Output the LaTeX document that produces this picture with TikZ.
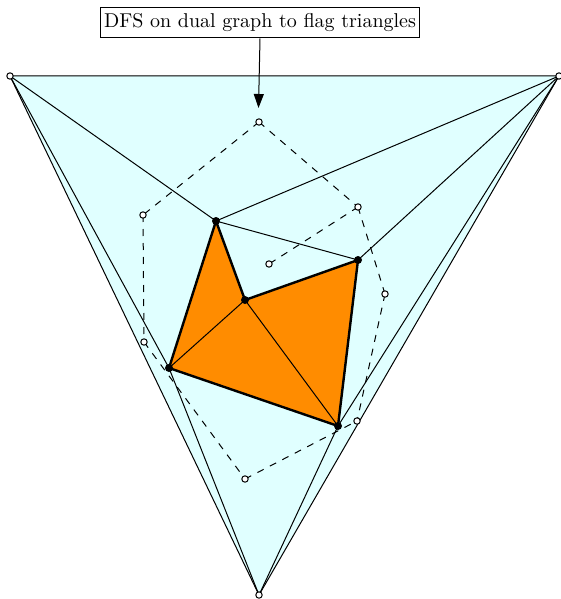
\documentclass[tikz,border=0pt]{standalone}
\usetikzlibrary{arrows.meta}
\definecolor{bgcyan}{RGB}{224,255,255}
\definecolor{fox}{RGB}{255,140,0}
\begin{document}
\begin{tikzpicture}[x=0.5pt,y=-0.5pt,
  edge/.style={line width=0.5pt},
  bound/.style={line width=1.2pt, line join=round},
  dual/.style={dash pattern=on 3.5pt off 3.5pt, line width=0.5pt},
  vdot/.style={circle, fill=black, inner sep=0pt, minimum size=4pt},
  odot/.style={circle, draw=black, fill=white, line width=0.5pt, inner sep=0pt, minimum size=3.2pt},
  lbl/.style={draw, line width=0.5pt, inner sep=2pt, minimum height=15pt, font=\normalsize}]
\useasboundingbox (0,0) rectangle (561,599);
% outer vertices
\coordinate (A) at (10,76);
\coordinate (B) at (559,76);
\coordinate (C) at (259,595);
% inner vertices
\coordinate (P1) at (216,221);
\coordinate (P2) at (358,260);
\coordinate (P3) at (245,300);
\coordinate (P4) at (169,368);
\coordinate (P5) at (338,426);
% dual vertices
\coordinate (D1) at (259,122);
\coordinate (D2) at (143,215);
\coordinate (D3) at (358,207);
\coordinate (D4) at (269,264);
\coordinate (D5) at (385,294);
\coordinate (D6) at (144,342);
\coordinate (D7) at (357,421);
\coordinate (D8) at (245,479);
% outer face
\fill[bgcyan] (A) -- (B) -- (C) -- cycle;
\draw[edge] (A) -- (B) -- (C) -- cycle;
% orange region
\fill[fox] (P1) -- (P3) -- (P2) -- (P5) -- (P4) -- cycle;
% triangulation edges
\draw[edge] (A) -- (P1);
\draw[edge] (A) -- (P4);
\draw[edge] (B) -- (P1);
\draw[edge] (B) -- (P2);
\draw[edge] (B) -- (P5);
\draw[edge] (C) -- (P4);
\draw[edge] (C) -- (P5);
\draw[edge] (P1) -- (P2);
\draw[edge] (P3) -- (P4);
\draw[edge] (P3) -- (P5);
% flagged boundary
\draw[bound] (P4) -- (P1) -- (P3) -- (P2) -- (P5) -- cycle;
% dual graph
\draw[dual] (D1) -- (D2);
\draw[dual] (D1) -- (D3);
\draw[dual] (D3) -- (D4);
\draw[dual] (D3) -- (D5);
\draw[dual] (D5) -- (D7);
\draw[dual] (D2) -- (D6);
\draw[dual] (D6) -- (D8);
\draw[dual] (D8) -- (D7);
% vertex marks
\foreach \p in {P1,P2,P3,P4,P5} \node[vdot] (m\p) at (\p) {};
\foreach \p in {A,B,C,D1,D2,D3,D4,D5,D6,D7,D8} \node[odot] (m\p) at (\p) {};
% label and arrow
\node[lbl] (note) at (260,23) {DFS on dual graph to flag triangles};
\coordinate (tip) at (258.5,108);
\draw[line width=0.5pt, -{Triangle[length=7pt,width=5pt]}] (note.south) -- (tip);
\end{tikzpicture}
\end{document}
